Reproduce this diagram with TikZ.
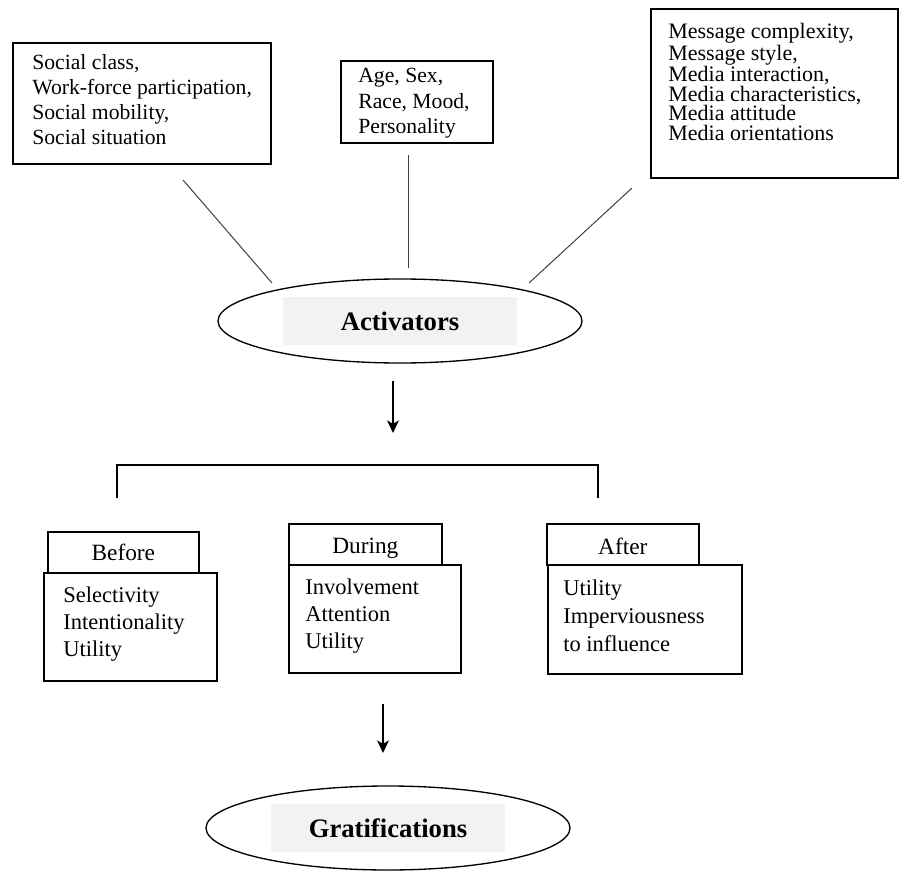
\documentclass[tikz,border=0pt]{standalone}
\usepackage{fontspec}
\setmainfont{Liberation Serif}
\usetikzlibrary{shapes.geometric,arrows.meta}

\tikzset{
  factorbox/.style 2 args={draw, line width=1pt, minimum width=#1*0.6pt, minimum height=#2*0.6pt, inner sep=0pt, anchor=north west},
  factortext/.style={anchor=north west, align=left, inner sep=0pt, font=\fontsize{13}{15}\selectfont},
  phasetab/.style 2 args={draw, line width=1pt, minimum width=#1*0.6pt, minimum height=#2*0.6pt, inner sep=0pt, anchor=north west, fill=white},
  phasetext/.style={anchor=north west, align=left, inner sep=0pt, font=\fontsize{13.5}{16}\selectfont},
  tablabel/.style={inner sep=0pt, font=\fontsize{14}{16}\selectfont},
  stage/.style={draw, ellipse, line width=0.8pt, minimum width=364*0.6pt, minimum height=84*0.6pt, inner sep=0pt},
  stagelabel/.style={fill=black!5, minimum width=234*0.6pt, minimum height=48*0.6pt, inner sep=0pt, font=\fontsize{16}{19}\selectfont\bfseries},
  spoke/.style={black!75, line width=0.6pt},
  flow/.style={line width=1pt, -{Stealth[length=7.5pt, width=7pt, inset=2pt]}}
}

\begin{document}
\begin{tikzpicture}[x=0.6pt, y=-0.6pt]
  \useasboundingbox (0,0) rectangle (899,871);

  % top factor boxes
  \node[factorbox={258}{121}] (social) at (12,42) {};
  \node[factortext] (socialtxt) at (32,54) {Social class,\\Work-force participation,\\Social mobility,\\Social situation};
  \node[factorbox={152}{82}] (person) at (340,60) {};
  \node[factortext, font=\fontsize{13}{15.3}\selectfont] (persontxt) at (358,68) {Age, Sex,\\Race, Mood,\\Personality};
  \node[factorbox={247}{169}] (media) at (650,8) {};
  \node[factortext, font=\fontsize{13.2}{11.7}\selectfont] (mediatxt) at (668,23) {Message complexity,\\Message style,\\Media interaction,\\Media characteristics,\\Media attitude\\Media orientations};

  % activators
  \node[stage] (act) at (400,321) {};
  \node[stagelabel] (actlbl) at (act) {Activators};
  \coordinate (s1) at (183,180);
  \coordinate (e1) at (272,283);
  \coordinate (s2) at (408,155);
  \coordinate (e2) at (408,268);
  \coordinate (s3) at (632,188);
  \coordinate (e3) at (529,283);
  \draw[spoke] (s1) -- (e1);
  \draw[spoke] (s2) -- (e2);
  \draw[spoke] (s3) -- (e3);

  \coordinate (a1) at (393,381);
  \coordinate (a2) at (393,433);
  \draw[flow] (a1) -- (a2);

  % bracket
  \coordinate (bl) at (117,498);
  \coordinate (br) at (598,498);
  \draw[line width=0.8pt] (bl) -- ++(0,-33) -| (br);

  % phases
  \node[phasetab={151}{41}] (beforetab) at (47,531) {};
  \node[tablabel] (beforelbl) at ([yshift=-0.5*0.6pt]beforetab) {Before};
  \node[factorbox={173}{108}] (before) at (43,572) {};
  \node[phasetext] (beforetxt) at (63,587) {Selectivity\\Intentionality\\Utility};

  \node[phasetab={153}{41}] (duringtab) at (288,523) {};
  \node[tablabel] (duringlbl) at ([yshift=-4*0.6pt]duringtab) {During};
  \node[factorbox={172}{108}] (during) at (288,564) {};
  \node[phasetext] (duringtxt) at (305,579) {Involvement\\Attention\\Utility};

  \node[phasetab={152}{41}] (aftertab) at (546,523) {};
  \node[tablabel] (afterlbl) at ([yshift=-2*0.6pt]aftertab) {After};
  \node[factorbox={194}{109}] (after) at (547,564) {};
  \node[phasetext, font=\fontsize{13.5}{16.8}\selectfont] (aftertxt) at (563,580) {Utility\\Imperviousness\\to influence};

  \coordinate (b1) at (383,704);
  \coordinate (b2) at (383,753);
  \draw[flow] (b1) -- (b2);

  % gratifications
  \node[stage] (grat) at (388,828) {};
  \node[stagelabel] (gratlbl) at (grat) {Gratifications};
\end{tikzpicture}
\end{document}
